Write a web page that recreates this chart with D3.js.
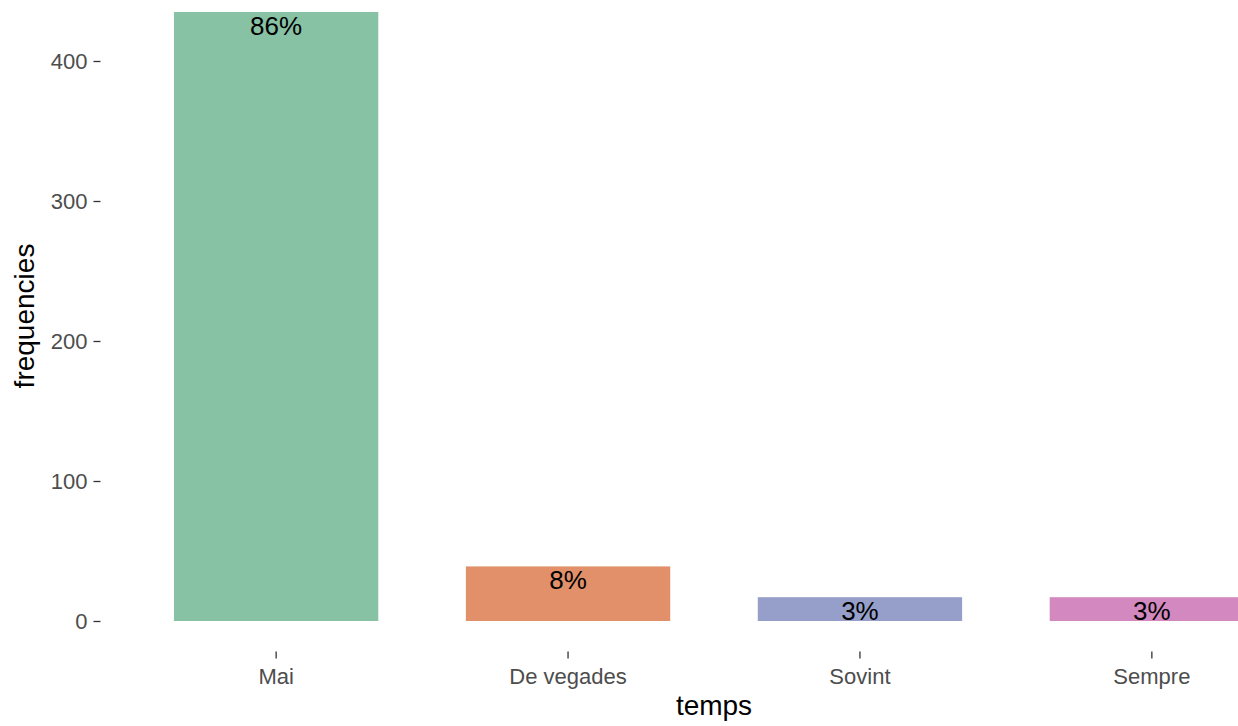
<!DOCTYPE html>
<html>
<head>
<meta charset="utf-8">
<script src="https://cdnjs.cloudflare.com/ajax/libs/d3/7.8.5/d3.min.js"></script>
<style>
  body { margin: 0; background: #fff; }
  svg { display: block; font-family: "Liberation Sans", Arial, sans-serif; }
  .tick text { fill: #4d4d4d; }
  .tick line { stroke: #333; }
</style>
</head>
<body>
<div id="chart"></div>
<script>
// data
var categories = ["Mai", "De vegades", "Sovint", "Sempre"];
var counts = [435, 39, 17, 17];
var colors = ["#88C2A5", "#E2906A", "#969FCA", "#D388C0"];
var yTicks = [0, 100, 200, 300, 400];

var width = 1238, height = 726;
var total = d3.sum(counts);
var fmt = d3.format(".0%");

var svg = d3.select("#chart").append("svg")
  .attr("width", width)
  .attr("height", height);

// panel runs past the right edge, like the original
var x = d3.scaleBand()
  .domain(categories)
  .range([101, 1327])
  .paddingInner(0.3)
  .paddingOuter(0.25);

var y = d3.scaleLinear()
  .domain([0, 400])
  .range([621, 61]);

var data = categories.map(function(c, i) {
  return {cat: c, n: counts[i], col: colors[i]};
});

// bars
svg.selectAll("rect.bar")
  .data(data)
  .enter().append("rect")
  .attr("class", "bar")
  .attr("x", function(d) { return x(d.cat); })
  .attr("width", x.bandwidth())
  .attr("y", function(d) { return y(d.n); })
  .attr("height", function(d) { return y(0) - y(d.n); })
  .attr("fill", function(d) { return d.col; });

// percent labels
svg.selectAll("text.lab")
  .data(data)
  .enter().append("text")
  .attr("class", "lab")
  .attr("x", function(d) { return x(d.cat) + x.bandwidth() / 2; })
  .attr("y", function(d) { return y(d.n) + 22.5; })
  .attr("text-anchor", "middle")
  .style("font-size", "26px")
  .style("fill", "#000")
  .text(function(d) { return fmt(d.n / total); });

// y axis
var gy = svg.append("g")
  .attr("transform", "translate(100.5,0)")
  .call(d3.axisLeft(y).tickValues(yTicks).tickSize(7).tickPadding(6));
gy.select(".domain").remove();
gy.selectAll("text").style("font-size", "22px");
gy.selectAll("line").style("stroke-width", 1.3);

// x axis
var gx = svg.append("g")
  .attr("transform", "translate(0,651.5)")
  .call(d3.axisBottom(x).tickSize(7).tickPadding(10));
gx.select(".domain").remove();
gx.selectAll("text").style("font-size", "22px");
gx.selectAll("line").style("stroke-width", 1.3);

// axis titles
svg.append("text")
  .attr("x", 714)
  .attr("y", 715)
  .attr("text-anchor", "middle")
  .style("font-size", "28px")
  .text("temps");

svg.append("text")
  .attr("transform", "translate(34,316) rotate(-90)")
  .attr("text-anchor", "middle")
  .style("font-size", "28px")
  .text("frequencies");
</script>
</body>
</html>
